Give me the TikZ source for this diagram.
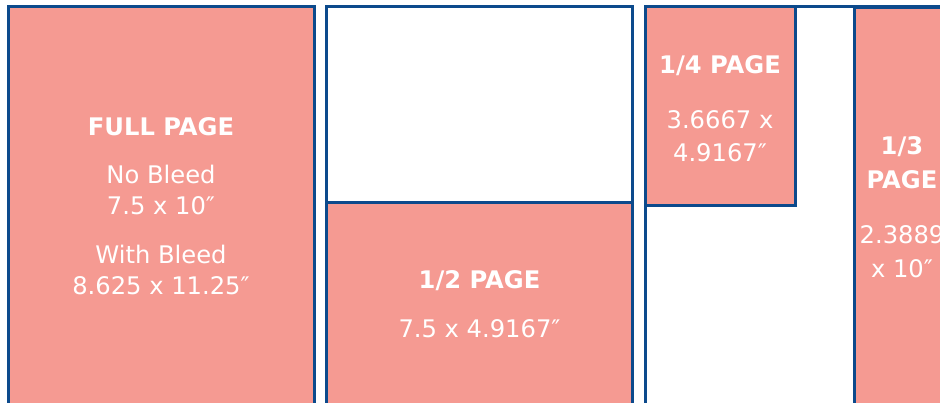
\documentclass[tikz,border=0pt]{standalone}
\usepackage{fontspec}
\setmainfont{DejaVu Sans}
\usetikzlibrary{positioning}
\definecolor{adpink}{RGB}{245,154,146}
\definecolor{adblue}{RGB}{12,74,140}

\begin{document}
\begin{tikzpicture}[
  x=1bp, y=-1bp,
  frame/.style={draw=adblue, line width=3bp, fill=white},
  adbox/.style={frame, fill=adpink},
  adlabel/.style={text=white, align=center, inner sep=0pt, anchor=north,
    font=\fontsize{24.3}{31}\selectfont}
]
\useasboundingbox (0,0) rectangle (940,402);
\clip (0,0) rectangle (940,402);
% full page
\draw[adbox] (8,6) rectangle (314.5,420);
% half page
\draw[frame] (326.7,6) rectangle (632.5,420);
\draw[adbox] (326.7,202) rectangle (632.5,420);
% quarter and third
\draw[frame] (645,6) rectangle (960,420);
\draw[adbox] (645,6) rectangle (795.7,205.7);
\draw[adbox] (854.3,7.5) rectangle (955,420);

\node[adlabel] (full) at (161,117.5)
  {\textbf{FULL PAGE}\\[17bp] No Bleed\\ 7.5 x 10″\\[18bp] With Bleed\\ 8.625 x 11.25″};
\node[adlabel] (half) at (479.5,270.7)
  {\textbf{1/2 PAGE}\\[18bp] 7.5 x 4.9167″};
\node[adlabel, font=\fontsize{24.3}{34}\selectfont] (quarter) at (720,55)
  {\textbf{1/4 PAGE}\\[21bp] 3.6667 x\\ 4.9167″};
\node[adlabel, font=\fontsize{24.3}{34}\selectfont] (third) at (902,136)
  {\textbf{1/3}\\ \textbf{PAGE}\\[22bp] 2.3889\\ x 10″};
\end{tikzpicture}
\end{document}
